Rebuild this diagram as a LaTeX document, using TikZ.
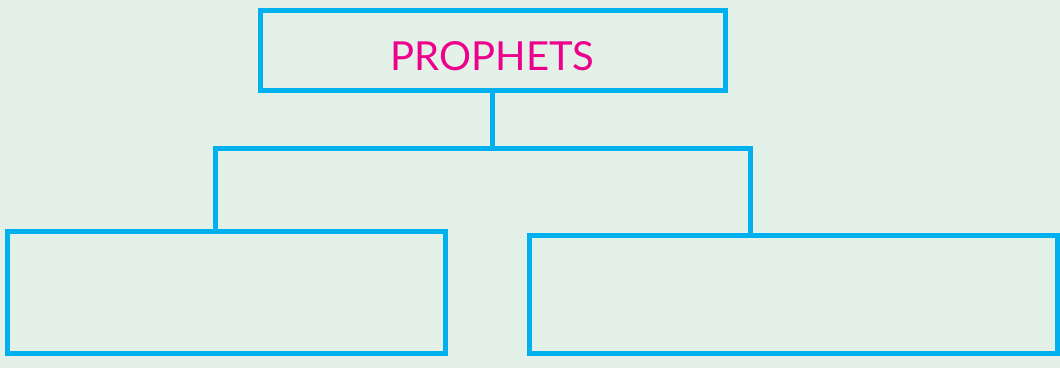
\documentclass[tikz,border=0pt]{standalone}
\usepackage{fontspec}
\setmainfont{Lato}
\definecolor{bgcol}{HTML}{E3F1E8}
\definecolor{framecol}{HTML}{00B0EF}
\definecolor{titlecol}{HTML}{EC008C}
\begin{document}
\begin{tikzpicture}[x=1pt, y=-1pt,
  box/.style={draw=framecol, line width=5pt, inner sep=0pt, outer sep=0pt},
  link/.style={draw=framecol, line width=5pt}]
  % canvas
  \fill[bgcol] (0,0) rectangle (1060,368);
  \useasboundingbox (0,0) rectangle (1060,368);
  % boxes
  \node[box, minimum width=465pt, minimum height=80.5pt] (top) at (492.5,50.25) {};
  \node[text=titlecol, font=\fontsize{40}{40}\selectfont, anchor=base] (title) at (492.5,70.7) {PROPHETS};
  \node[box, minimum width=438pt, minimum height=121.5pt] (left) at (226.5,292.25) {};
  \node[box, minimum width=527.5pt, minimum height=118pt] (right) at (793.25,294) {};
  % tree connectors
  \coordinate (join) at (492.5,148);
  \coordinate (lbend) at (215.5,148);
  \coordinate (rbend) at (750.5,148);
  \draw[link] (top.south) -- (join);
  \draw[link] (left.north -| lbend) -- (lbend) -- (rbend) -- (right.north -| rbend);
\end{tikzpicture}
\end{document}
